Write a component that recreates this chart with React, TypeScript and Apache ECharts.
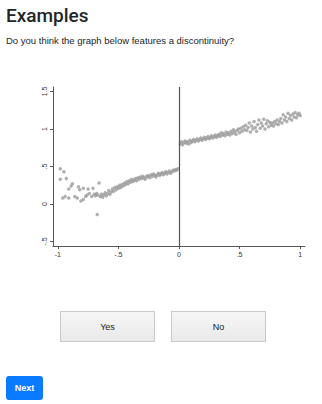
import React, { useEffect, useRef } from "react";
import * as echarts from "echarts";

const xTicks = [-1, -0.5, 0, 0.5, 1];
const yTicks = [-0.5, 0, 0.5, 1, 1.5];
const cutoff = 0;

const leftPoints: [number, number][] = [
  [-0.98, 0.47], [-0.95, 0.43], [-0.98, 0.33], [-0.93, 0.34], [-0.96, 0.08], [-0.94, 0.1],
  [-0.91, 0.2], [-0.89, 0.24], [-0.88, 0.27], [-0.91, 0.08], [-0.86, 0.1], [-0.84, 0.08],
  [-0.83, 0.23], [-0.82, 0.19], [-0.81, 0.04], [-0.79, 0.06], [-0.79, 0.21], [-0.77, 0.1],
  [-0.76, 0.12], [-0.75, 0.2], [-0.74, 0.14], [-0.72, 0.1], [-0.71, 0.21], [-0.7, 0.13],
  [-0.69, 0.11], [-0.68, 0.14], [-0.66, 0.28], [-0.675, -0.14], [-0.67, 0.12], [-0.65, 0.1],
  [-0.64, 0.13], [-0.63, 0.09], [-0.62, 0.12], [-0.61, 0.15], [-0.6, 0.11], [-0.59, 0.14],
  [-0.58, 0.18], [-0.57, 0.13], [-0.56, 0.16], [-0.55, 0.2], [-0.54, 0.17], [-0.53, 0.22],
  [-0.52, 0.19], [-0.51, 0.23], [-0.5, 0.21], [-0.49, 0.25], [-0.48, 0.22], [-0.47, 0.26],
  [-0.46, 0.24], [-0.45, 0.28], [-0.44, 0.26], [-0.43, 0.3], [-0.42, 0.27], [-0.41, 0.31],
  [-0.4, 0.29], [-0.39, 0.33], [-0.38, 0.3], [-0.37, 0.32], [-0.36, 0.34], [-0.35, 0.31],
  [-0.34, 0.35], [-0.33, 0.33], [-0.32, 0.36], [-0.31, 0.34], [-0.3, 0.37], [-0.29, 0.35],
  [-0.28, 0.33], [-0.27, 0.37], [-0.26, 0.36], [-0.25, 0.38], [-0.24, 0.35], [-0.23, 0.39],
  [-0.22, 0.37], [-0.21, 0.4], [-0.2, 0.38], [-0.19, 0.36], [-0.18, 0.39], [-0.17, 0.41],
  [-0.16, 0.38], [-0.15, 0.4], [-0.14, 0.42], [-0.13, 0.39], [-0.12, 0.41], [-0.11, 0.43],
  [-0.1, 0.4], [-0.09, 0.42], [-0.08, 0.44], [-0.07, 0.41], [-0.06, 0.43], [-0.05, 0.45],
  [-0.04, 0.44], [-0.03, 0.46], [-0.02, 0.45], [-0.01, 0.47],
];

const rightPoints: [number, number][] = [
  [0.01, 0.8], [0.02, 0.83], [0.03, 0.79], [0.04, 0.82], [0.05, 0.84], [0.06, 0.81],
  [0.07, 0.83], [0.08, 0.8], [0.09, 0.85], [0.1, 0.82], [0.11, 0.84], [0.12, 0.86],
  [0.13, 0.83], [0.14, 0.85], [0.15, 0.87], [0.16, 0.84], [0.17, 0.86], [0.18, 0.88],
  [0.19, 0.85], [0.2, 0.87], [0.21, 0.89], [0.22, 0.86], [0.23, 0.88], [0.24, 0.9],
  [0.25, 0.87], [0.26, 0.89], [0.27, 0.91], [0.28, 0.88], [0.29, 0.9], [0.3, 0.92],
  [0.31, 0.89], [0.32, 0.91], [0.33, 0.93], [0.34, 0.9], [0.35, 0.95], [0.36, 0.92],
  [0.37, 0.94], [0.38, 0.91], [0.39, 0.96], [0.4, 0.93], [0.41, 0.95], [0.42, 0.92],
  [0.43, 0.97], [0.44, 0.94], [0.45, 0.99], [0.46, 0.96], [0.47, 0.93], [0.48, 0.98],
  [0.49, 1.0], [0.5, 0.95], [0.51, 1.01], [0.52, 0.97], [0.53, 1.03], [0.54, 0.99],
  [0.55, 1.05], [0.56, 0.98], [0.57, 1.02], [0.58, 1.08], [0.59, 0.96], [0.6, 1.04],
  [0.61, 1.0], [0.62, 1.1], [0.63, 1.02], [0.64, 0.97], [0.65, 1.06], [0.66, 1.12],
  [0.67, 1.01], [0.68, 1.08], [0.69, 1.04], [0.7, 1.13], [0.71, 1.0], [0.72, 1.07],
  [0.73, 1.11], [0.74, 1.03], [0.75, 1.09], [0.76, 1.05], [0.77, 1.08], [0.78, 1.04],
  [0.79, 1.1], [0.8, 1.07], [0.81, 1.12], [0.82, 1.06], [0.83, 1.1], [0.84, 1.14],
  [0.85, 1.08], [0.86, 1.19], [0.87, 1.12], [0.88, 1.16], [0.89, 1.1], [0.9, 1.21],
  [0.91, 1.14], [0.92, 1.18], [0.93, 1.12], [0.94, 1.2], [0.95, 1.16], [0.96, 1.22],
  [0.97, 1.15], [0.98, 1.19], [0.99, 1.21], [1.0, 1.18],
];

const fmt = (v: number) => {
  const s = String(v);
  if (s.startsWith("0.")) return s.slice(1);
  if (s.startsWith("-0.")) return "-" + s.slice(2);
  return s;
};

const FONT = '"Liberation Sans", Arial, Helvetica, sans-serif';

function Chart() {
  const ref = useRef<HTMLDivElement>(null);
  useEffect(() => {
    if (!ref.current) return;
    const chart = echarts.init(ref.current, undefined, { renderer: "svg" });
    const axisLine = { show: true, onZero: false, lineStyle: { color: "#555", width: 1 } };
    const tick = { show: true, length: 3, lineStyle: { color: "#555", width: 1 } };
    chart.setOption({
      animation: false,
      grid: { left: 53, right: 17, top: 17, bottom: 34 },
      xAxis: {
        type: "value",
        min: -1.04,
        max: 1.04,
        axisLine,
        splitLine: { show: false },
        axisTick: { ...tick, customValues: xTicks },
        axisLabel: {
          customValues: xTicks,
          formatter: (v: number) => fmt(v),
          fontSize: 7,
          color: "#333",
          fontFamily: FONT,
          margin: 5,
        },
      },
      yAxis: {
        type: "value",
        min: -0.56,
        max: 1.56,
        axisLine,
        splitLine: { show: false },
        axisTick: { ...tick, customValues: yTicks },
        axisLabel: {
          customValues: yTicks,
          formatter: (v: number) => fmt(v),
          fontSize: 7,
          color: "#333",
          fontFamily: FONT,
          rotate: 90,
          margin: 5,
        },
      },
      series: [
        {
          type: "scatter",
          data: leftPoints,
          symbolSize: 3.5,
          itemStyle: { color: "#9b9b9b" },
          markLine: {
            silent: true,
            symbol: ["none", "none"],
            label: { show: false },
            lineStyle: { color: "#555", width: 1.2, type: "solid" },
            data: [{ xAxis: cutoff }],
          },
        },
        {
          type: "scatter",
          data: rightPoints,
          symbolSize: 3.5,
          itemStyle: { color: "#9b9b9b" },
        },
      ],
    });
    return () => chart.dispose();
  }, []);
  return <div ref={ref} style={{ position: "absolute", left: 0, top: 70, width: 322, height: 210 }} />;
}

const btn: React.CSSProperties = {
  position: "absolute",
  top: 311,
  width: 95,
  height: 31,
  boxSizing: "border-box",
  border: "1px solid #c9c9c9",
  background: "linear-gradient(#f6f6f6, #e9e9e9)",
  fontFamily: FONT,
  fontSize: 9,
  color: "#222",
  display: "flex",
  alignItems: "center",
  justifyContent: "center",
};

export default function App() {
  return (
    <div style={{ position: "fixed", left: 0, top: 0, width: 322, height: 404, background: "#fff", fontFamily: FONT, overflow: "hidden" }}>
      <div style={{ position: "absolute", left: 6, top: 4, fontSize: 19, fontWeight: 500, fontFamily: 'Roboto, "Liberation Sans", sans-serif', color: "#212529", lineHeight: "24px" }}>
        Examples
      </div>
      <div style={{ position: "absolute", left: 6, top: 34, fontSize: 9.5, color: "#212529", lineHeight: "14px" }}>
        Do you think the graph below features a discontinuity?
      </div>
      <Chart />
      <div style={{ ...btn, left: 60 }}>Yes</div>
      <div style={{ ...btn, left: 171 }}>No</div>
      <div
        style={{
          position: "absolute",
          left: 6,
          top: 376,
          width: 37,
          height: 24,
          background: "#0a7bff",
          borderRadius: 3,
          color: "#fff",
          fontSize: 9,
          fontWeight: 600,
          display: "flex",
          alignItems: "center",
          justifyContent: "center",
        }}
      >
        Next
      </div>
    </div>
  );
}
